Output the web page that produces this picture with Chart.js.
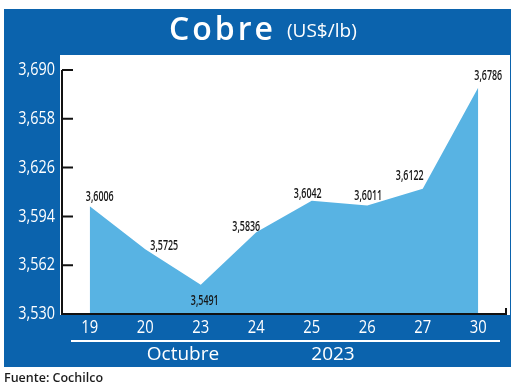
<!DOCTYPE html>
<html>
<head>
<meta charset="utf-8">
<script src="https://cdn.jsdelivr.net/npm/chart.js@4/dist/chart.umd.min.js"></script>
<style>
  body { margin: 0; background: #fff; }
  #wrap { width: 520px; height: 389px; }
</style>
</head>
<body>
<div id="wrap"><canvas id="myChart" width="520" height="389"></canvas></div>
<script>
// datos: precio del cobre, octubre 2023
const days = ['19', '20', '23', '24', '25', '26', '27', '30'];
const cobre = [3.6006, 3.5725, 3.5491, 3.5836, 3.6042, 3.6011, 3.6122, 3.6786];
const yTicks = [3.530, 3.562, 3.594, 3.626, 3.658, 3.690];
const monthLabel = 'Octubre';
const yearLabel = '2023';

// where each value label sits relative to its point (dx, dy)
const labelOffsets = [[10, -9], [19, -3], [4, 16], [-10, -5], [-4, -7], [1, -9], [-13, -12], [10, -11]];

const BLUE = '#0b63ad';
const AREA = '#58b3e3';
const SANS = "'Open Sans', sans-serif";

const fmt = (v, d) => v.toFixed(d).replace('.', ',');

// condensed look: squeeze text horizontally around its anchor
function squeezed(ctx, text, x, y, sx) {
    ctx.save();
    ctx.translate(x, y);
    ctx.scale(sx, 1);
    ctx.fillText(text, 0, 0);
    ctx.restore();
}

// background, header and white plot box
const backdrop = {
    id: 'backdrop',
    beforeDraw(chart) {
        const ctx = chart.ctx;
        ctx.save();
        ctx.fillStyle = '#fff';
        ctx.fillRect(0, 0, 520, 389);
        ctx.fillStyle = BLUE;
        ctx.fillRect(4, 9, 507, 358);
        ctx.fillStyle = '#fff';
        ctx.fillRect(60, 55, 450, 260);

        ctx.fillStyle = '#fff';
        ctx.textBaseline = 'alphabetic';
        ctx.textAlign = 'left';
        ctx.font = "600 32px " + SANS;
        ctx.letterSpacing = '3px';
        ctx.fillText('Cobre', 169, 40);
        ctx.letterSpacing = '0px';
        ctx.font = "19px " + SANS;
        ctx.fillText('(US$/lb)', 287, 37);
        ctx.restore();
    }
};

// axis lines, inward ticks, tick labels, month/year row, source
const frame = {
    id: 'frame',
    afterDraw(chart) {
        const ctx = chart.ctx;
        const a = chart.chartArea;
        const x = chart.scales.x;
        const y = chart.scales.y;
        ctx.save();
        ctx.strokeStyle = '#111';
        ctx.lineWidth = 2;
        ctx.beginPath();
        ctx.moveTo(a.left, y.getPixelForValue(y.max));
        ctx.lineTo(a.left, a.bottom);
        ctx.lineTo(a.right, a.bottom);
        ctx.lineTo(a.right, a.bottom - 6);
        y.ticks.forEach(t => {
            const py = y.getPixelForValue(t.value);
            ctx.moveTo(a.left, py);
            ctx.lineTo(a.left + 11, py);
        });
        ctx.stroke();

        // tick labels
        ctx.fillStyle = '#fff';
        ctx.font = "18px " + SANS;
        ctx.textBaseline = 'middle';
        ctx.textAlign = 'right';
        y.ticks.forEach(t => {
            squeezed(ctx, fmt(t.value, 3), 55, y.getPixelForValue(t.value), 0.8);
        });
        ctx.textAlign = 'center';
        x.ticks.forEach((t, i) => {
            squeezed(ctx, x.getLabelForValue(t.value), x.getPixelForTick(i), 328, 0.82);
        });

        ctx.strokeStyle = '#fff';
        ctx.beginPath();
        ctx.moveTo(71, 341);
        ctx.lineTo(500, 341);
        ctx.stroke();

        ctx.font = "19px " + SANS;
        ctx.fillText(monthLabel, 183, 355);
        ctx.fillText(yearLabel, 333, 355);

        ctx.fillStyle = '#1d1d1d';
        ctx.textAlign = 'left';
        ctx.font = "600 12.5px " + SANS;
        ctx.fillText('Fuente: Cochilco', 4, 378);
        ctx.restore();
    }
};

// value labels like 3,6006
const valueLabels = {
    id: 'valueLabels',
    afterDatasetsDraw(chart) {
        const ctx = chart.ctx;
        const meta = chart.getDatasetMeta(0);
        ctx.save();
        ctx.fillStyle = '#161616';
        ctx.font = "600 13.5px " + SANS;
        ctx.textAlign = 'center';
        ctx.textBaseline = 'middle';
        meta.data.forEach((pt, i) => {
            const off = labelOffsets[i];
            squeezed(ctx, fmt(cobre[i], 4), pt.x + off[0], pt.y + off[1], 0.66);
        });
        ctx.restore();
    }
};

const ctx = document.getElementById('myChart').getContext('2d');
const myChart = new Chart(ctx, {
    type: 'line',
    data: {
        labels: days,
        datasets: [{
            data: cobre,
            fill: 'start',
            backgroundColor: AREA,
            borderWidth: 0,
            pointRadius: 0,
            tension: 0
        }]
    },
    options: {
        responsive: false,
        animation: false,
        layout: { padding: { top: 70, right: 14, left: 0, bottom: 0 } },
        plugins: {
            legend: { display: false },
            tooltip: { enabled: false }
        },
        scales: {
            x: {
                offset: true,
                grid: { display: false },
                border: { display: false },
                ticks: { display: false },
                afterFit(scale) { scale.height = 75; }
            },
            y: {
                min: 3.53,
                max: 3.69,
                grid: { display: false },
                border: { display: false },
                afterBuildTicks(scale) {
                    scale.ticks = yTicks.map(v => ({ value: v }));
                },
                ticks: { display: false },
                afterFit(scale) { scale.width = 62; }
            }
        }
    },
    plugins: [backdrop, frame, valueLabels]
});
</script>
</body>
</html>
